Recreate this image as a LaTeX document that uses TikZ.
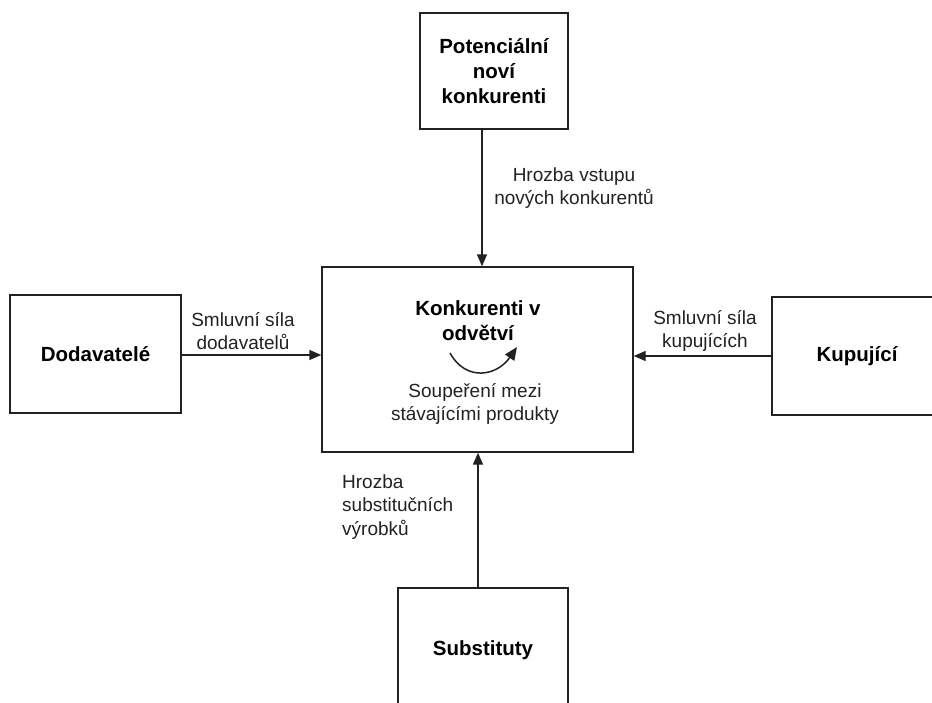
\documentclass[tikz,border=0pt]{standalone}
\usepackage{fontspec}
\setmainfont{Liberation Sans}
\usetikzlibrary{arrows.meta}
\definecolor{ink}{HTML}{222222}
\begin{document}
\begin{tikzpicture}[x=1pt,y=-1pt,
  box/.style={draw=ink,line width=1.4pt,rectangle,inner sep=0pt,align=center,font=\fontsize{20.5}{25}\selectfont\bfseries},
  lbl/.style={inner sep=0pt,text=ink,font=\fontsize{19}{23.5}\selectfont},
  conn/.style={draw=ink,line width=1.4pt,-{Triangle[length=12pt,width=10pt]}}
]
\useasboundingbox (0,0) rectangle (932,702);
\clip (0,0) rectangle (932,702);
\fill[white] (0,0) rectangle (932,702);
% boxes
\node[box,minimum width=148pt,minimum height=116pt] (top) at (494,71) {Potenciální\\noví\\konkurenti};
\node[draw=ink,line width=1.4pt,rectangle,minimum width=311pt,minimum height=185pt] (mid) at (477.5,359.5) {};
\node[box,minimum width=171pt,minimum height=118pt] (left) at (95.5,354) {Dodavatelé};
\node[box,minimum width=170pt,minimum height=118pt] (right) at (857,356) {Kupující};
\node[box,minimum width=170pt,minimum height=124pt] (bot) at (483,650) {Substituty};
% center texts
\node[inner sep=0pt,align=center,font=\fontsize{20.5}{25}\selectfont\bfseries] (title) at (478,320.5) {Konkurenti v\\odvětví};
\node[lbl,align=center] (rival) at (475,404) {Soupeření mezi\\stávajícími produkty};
\coordinate (cs) at (450,353);
\coordinate (ce) at (517,347);
\draw[draw=ink,line width=1.5pt,-{Triangle[length=13pt,width=11pt]}] (cs) .. controls (466,382) and (497,376) .. (ce);
% labels
\node[lbl,align=center] (l1) at (574,188) {Hrozba vstupu\\nových konkurentů};
\node[lbl,align=center] (l2) at (243,331) {Smluvní síla\\dodavatelů};
\node[lbl,align=center] (l3) at (705,331) {Smluvní síla\\kupujících};
\node[lbl,align=left,anchor=west] (l4) at (342,507) {Hrozba\\substitučních\\výrobků};
% connectors
\draw[conn] (top.south -| 482,0) -- (mid.north -| 482,0);
\draw[conn] (left.east |- 0,355) -- (mid.west |- 0,355);
\draw[conn] (right.west |- 0,356) -- (mid.east |- 0,356);
\draw[conn] (bot.north -| 478,0) -- (mid.south -| 478,0);
\end{tikzpicture}
\end{document}
